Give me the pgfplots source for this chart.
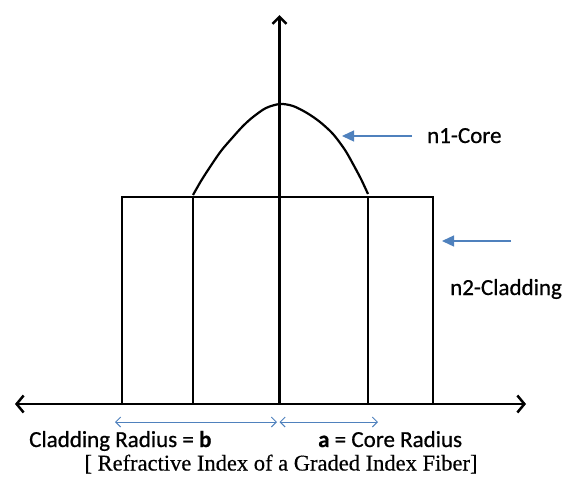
\documentclass[border=0pt]{standalone}
\usepackage{fontspec}
\setmainfont{Carlito}[FakeBold=0.7]
\newfontfamily\timesfont{Liberation Serif}[FakeBold=0.5]
\usepackage{pgfplots}
\pgfplotsset{compat=1.18}
\usetikzlibrary{arrows.meta}
\definecolor{ofblue}{RGB}{79,129,189}
\begin{document}
\begin{tikzpicture}
\begin{axis}[
  scale only axis, width=579pt, height=477pt,
  xmin=0, xmax=579, ymin=0, ymax=477, y dir=reverse,
  hide axis, clip=false,
]
% bounding helper
\addplot[draw=none] coordinates {(0,0) (579,477)};
% horizontal axis
\addplot[line width=2.5pt, {Straight Barb[length=7pt,width=17pt,line width=2.5pt]}-{Straight Barb[length=7pt,width=17pt,line width=2.5pt]}] coordinates {(15,404) (526,404)};
% vertical axis
\addplot[line width=2.5pt, -{Straight Barb[length=7pt,width=14pt,line width=2.5pt]}] coordinates {(279.5,404) (279.5,15)};
% cladding rectangle
\addplot[line width=2pt] coordinates {(122,404) (122,196.5) (433,196.5) (433,404)};
% inner core lines
\addplot[line width=2pt] coordinates {(193,196.5) (193,404)};
\addplot[line width=2pt] coordinates {(367.5,196.5) (367.5,404)};
% graded index profile
\addplot[line width=2.2pt, smooth, tension=0.5] coordinates {
 (193,195) (201,181) (210,167) (221,151) (233,137) (243,126) (253,117) (266,108) (280,104)
 (293,106) (307,113) (320,122) (333,134) (345,150) (353,164) (361,179) (368,194)};
% blue pointer arrows
\addplot[ofblue, line width=1.3pt, -{Triangle[length=12pt,width=11pt]}] coordinates {(412,136) (342,136)};
\addplot[ofblue, line width=1.3pt, -{Triangle[length=12pt,width=11pt]}] coordinates {(511,241) (442,241)};
% blue dimension arrows
\addplot[ofblue, line width=1pt, {Straight Barb[length=5pt,width=10pt]}-{Straight Barb[length=5pt,width=10pt]}] coordinates {(115,422) (277,422)};
\addplot[ofblue, line width=1pt, {Straight Barb[length=5pt,width=10pt]}-{Straight Barb[length=5pt,width=10pt]}] coordinates {(279.5,422) (378,422)};
% labels
\node[anchor=base west, inner sep=0pt, font=\fontsize{23}{27}\selectfont] at (axis cs:427,143) {n1-Core};
\node[anchor=base west, inner sep=0pt, font=\fontsize{23}{27}\selectfont] at (axis cs:450,295) {n2-Cladding};
\node[anchor=base west, inner sep=0pt, font=\fontsize{23}{27}\selectfont] at (axis cs:29,447) {Cladding Radius = \textbf{b}};
\node[anchor=base west, inner sep=0pt, font=\fontsize{23}{27}\selectfont] at (axis cs:318,447) {\textbf{a} = Core Radius};
\node[anchor=base, inner sep=0pt, font=\timesfont\fontsize{22.5}{26}\selectfont] at (axis cs:281,470.5) {[ Refractive Index of a Graded Index Fiber]};
\end{axis}
\end{tikzpicture}
\end{document}
